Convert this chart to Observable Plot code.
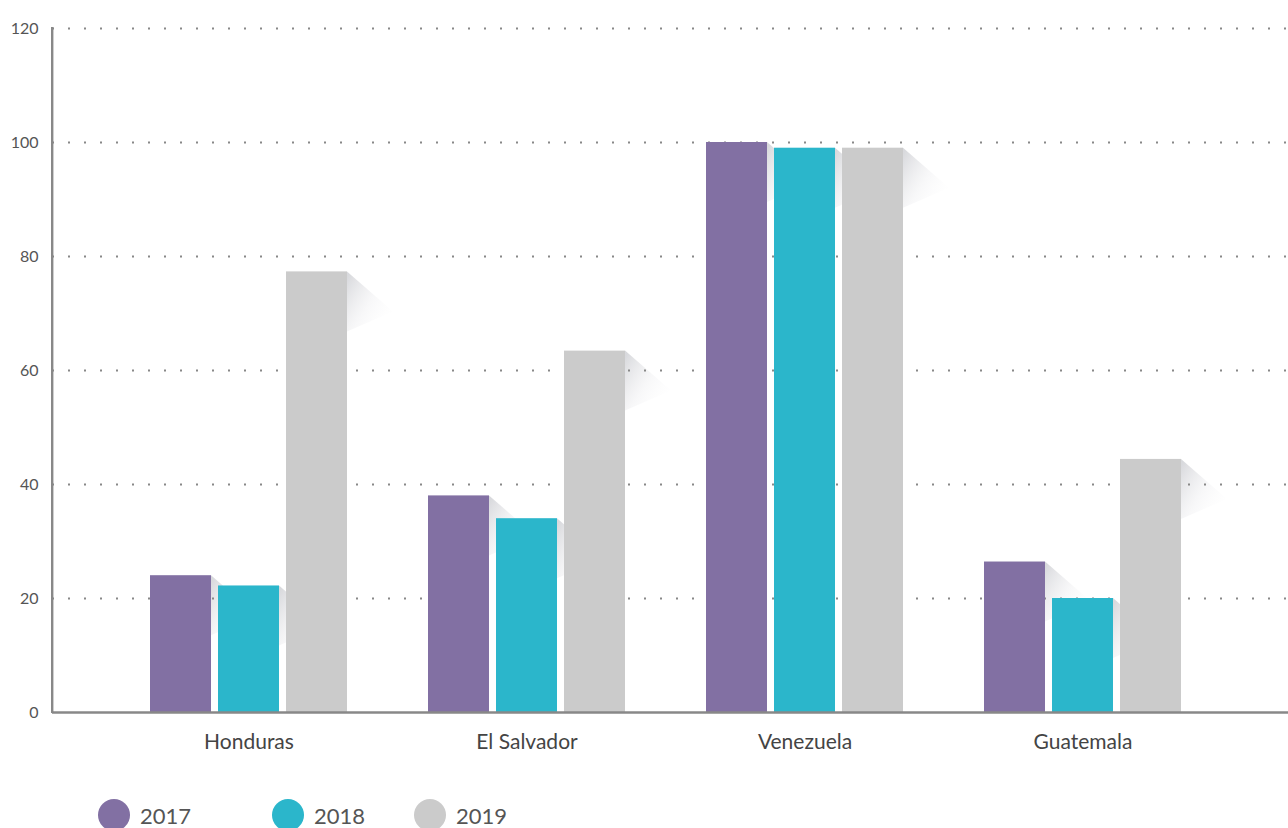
<!DOCTYPE html>
<html>
<head>
<meta charset="utf-8">
<script src="https://cdn.jsdelivr.net/npm/d3@7"></script>
<script src="https://cdn.jsdelivr.net/npm/@observablehq/plot@0.6"></script>
<style>
  html, body { margin: 0; padding: 0; background: #fff; }
  body { width: 1288px; height: 828px; overflow: hidden; font-family: Lato, "Open Sans", sans-serif; }
  #legend { display: flex; align-items: center; height: 32px; margin-top: 19px; padding-left: 98px; }
  .item { display: flex; align-items: center; }
  .swatch { width: 32px; height: 32px; border-radius: 50%; margin-right: 10px; }
  .lab { font-size: 22px; color: #555; }
</style>
</head>
<body>
<div id="chart"></div>
<div id="legend"></div>
<script>
const countries = ["Honduras", "El Salvador", "Venezuela", "Guatemala"];
const years = ["2017", "2018", "2019"];
const values2017 = [24, 38, 100, 26.4];
const values2018 = [22.2, 34, 99, 20];
const values2019 = [77.3, 63.4, 99, 44.4];
const yearColors = ["#8270a3", "#2bb6cb", "#cbcbcb"];
const yTicks = [0, 20, 40, 60, 80, 100, 120];
const legendWidths = [174, 142, 142];

const series = [values2017, values2018, values2019];
const data = [];
years.forEach((yr, i) => countries.forEach((c, j) => data.push({country: c, year: yr, value: series[i][j]})));

const barW = 61, gap = 7, slot = barW + gap;
const barMarks = years.map((yr, i) =>
  Plot.barY(data.filter(d => d.year === yr), {
    x: "country", y: "value", fill: yearColors[i],
    insetLeft: i * slot, insetRight: (years.length - 1 - i) * slot
  })
);

const chart = Plot.plot({
  width: 1288,
  height: 780,
  marginLeft: 52,
  marginRight: 0,
  marginTop: 28,
  marginBottom: 68,
  style: {fontFamily: "Lato, 'Open Sans', sans-serif", color: "#555", background: "#fff"},
  x: {domain: countries, paddingInner: 0.293, paddingOuter: 0.363, align: 0.478, label: null},
  y: {domain: [0, 120], label: null},
  marks: [
    Plot.ruleY(yTicks.filter(t => t > 0), {stroke: "#888", strokeWidth: 2, strokeDasharray: "2,14"}),
    ...barMarks,
    Plot.ruleY([0], {stroke: "#888", strokeWidth: 2.5}),
    Plot.axisY(yTicks, {tickSize: 0, tickPadding: 14, fontSize: 16, fill: "#555", label: null}),
    Plot.axisX({tickSize: 0, tickPadding: 22, fontSize: 21, fill: "#444", label: null})
  ]
});
document.getElementById("chart").appendChild(chart);

// Folded-corner shadows derived from the rendered bars, plus the left axis line
const svg = d3.select(chart);
const defs = svg.insert("defs", ":first-child");
const grad = defs.append("linearGradient").attr("id", "shade")
  .attr("x1", 0).attr("y1", 0.1).attr("x2", 1).attr("y2", 0.9);
grad.append("stop").attr("offset", 0).attr("stop-color", "#d4d5d9").attr("stop-opacity", 0.9);
grad.append("stop").attr("offset", 0.5).attr("stop-color", "#f0f0f2").attr("stop-opacity", 0.5);
grad.append("stop").attr("offset", 1).attr("stop-color", "#ffffff").attr("stop-opacity", 0);

const rects = [];
svg.selectAll("g[aria-label='bar'] rect").each(function () {
  const r = this;
  rects.push({x: +r.getAttribute("x"), y: +r.getAttribute("y"), w: +r.getAttribute("width")});
});
const shadowG = svg.insert("g", "g[aria-label='rule']");
rects.forEach(r => {
  const R = r.x + r.w, T = r.y;
  shadowG.append("polygon")
    .attr("points", [[R, T], [R + 46, T + 40], [R, T + 60]].map(p => p.join(",")).join(" "))
    .attr("fill", "url(#shade)");
});

const xs = chart.scale("x"), ys = chart.scale("y");
svg.append("line")
  .attr("x1", xs.range[0] + 0.2).attr("x2", xs.range[0] + 0.2)
  .attr("y1", ys.range[1] - 1).attr("y2", ys.range[0] + 1)
  .attr("stroke", "#888").attr("stroke-width", 2.4);

// Legend
const legend = d3.select("#legend");
years.forEach((yr, i) => {
  const it = legend.append("div").attr("class", "item").style("width", legendWidths[i] + "px");
  it.append("div").attr("class", "swatch").style("background", yearColors[i]);
  it.append("span").attr("class", "lab").text(yr);
});
</script>
</body>
</html>
